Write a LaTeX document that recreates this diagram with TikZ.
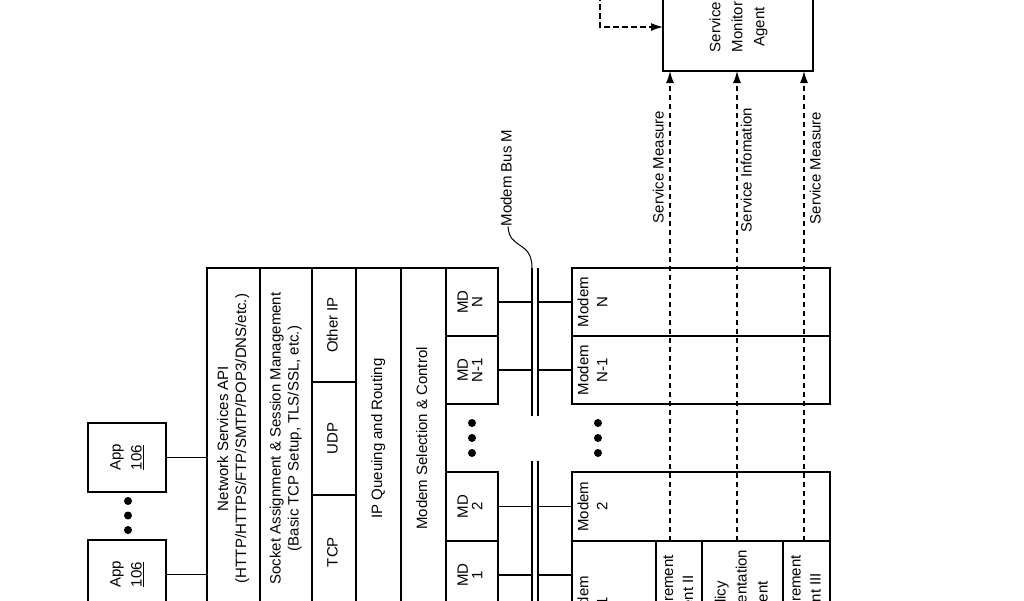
\documentclass[tikz,border=0pt]{standalone}
\usepackage{fontspec}
\setmainfont{Liberation Sans}
\usepackage{graphicx}
\usetikzlibrary{arrows.meta}
\newcommand{\rt}[2][18pt]{\rotatebox{90}{\fontsize{15pt}{#1}\selectfont\begin{tabular}{@{}c@{}}#2\end{tabular}}}
\begin{document}
\begin{tikzpicture}[x=1pt,y=-1pt,
  bx/.style={draw, line width=1.3pt, inner sep=0pt, outer sep=0pt, rectangle},
  sz/.style 2 args={minimum width=#1pt, minimum height=#2pt},
  lbl/.style={inner sep=0pt, outer sep=0pt},
  conn/.style={line width=1.2pt},
  bus/.style={line width=1.3pt},
  dsh/.style={line width=1.2pt, dash pattern=on 5.5pt off 3.5pt, -{Latex[length=12pt,width=8pt]}},
  dotn/.style={circle, fill, inner sep=0pt, minimum size=8pt}
]
\useasboundingbox (0,0) rectangle (1024,600);
\clip (0,0) rectangle (1024,600);

% Apps
\node[bx, sz={78}{69}] (app1) at (127,457.5) {\rt[21pt]{App\\\underline{106}}};
\node[bx, sz={78}{69}] (app2) at (127,574.5) {\rt[21pt]{App\\\underline{106}}};
\node[dotn] (ad1) at (128,501) {};
\node[dotn] (ad2) at (128,515.5) {};
\node[dotn] (ad3) at (128,530) {};

% Stack
\node[bx, sz={53}{341}] (nsa) at (233.5,438.5) {\rt{Network Services API\\(HTTP/HTTPS/FTP/SMTP/POP3/DNS/etc.)}};
\node[bx, sz={52}{341}] (sock) at (286,438.5) {\rt{Socket Assignment \& Session Management\\(Basic TCP Setup, TLS/SSL, etc.)}};
\node[bx, sz={44}{114}] (oip) at (334,325) {\rt{Other IP}};
\node[bx, sz={44}{113}] (udp) at (334,438.5) {\rt{UDP}};
\node[bx, sz={44}{114}] (tcp) at (334,552) {\rt{TCP}};
\node[bx, sz={45}{341}] (ipq) at (378.5,438.5) {\rt{IP Queuing and Routing}};
\node[bx, sz={45}{341}] (msc) at (423.5,438.5) {\rt{Modem Selection \& Control}};
\node[bx, sz={52}{68}] (mdN) at (472,302) {\rt[13.5pt]{MD\\N}};
\node[bx, sz={52}{68}] (mdN1) at (472,370) {\rt[13.5pt]{MD\\N-1}};
\node[bx, sz={52}{69}] (md2) at (472,506.5) {\rt[13.5pt]{MD\\2}};
\node[bx, sz={52}{68}] (md1) at (472,575) {\rt[13.5pt]{MD\\1}};
\node[dotn] (md1d) at (472,423) {};
\node[dotn] (md2d) at (472,438) {};
\node[dotn] (md3d) at (472,453) {};

\draw[conn] (app1.east) -- (app1.east -| nsa.west);
\draw[conn] (app2.east) -- (app2.east -| nsa.west);

% Bus
\coordinate (bL1) at (532,268); \coordinate (bL2) at (532,416);
\coordinate (bR1) at (538,268); \coordinate (bR2) at (538,416);
\coordinate (bL3) at (532,461); \coordinate (bL4) at (532,612);
\coordinate (bR3) at (538,461); \coordinate (bR4) at (538,612);
\draw[bus] (bL1) -- (bL2);
\draw[bus] (bR1) -- (bR2);
\draw[bus] (bL3) -- (bL4);
\draw[bus] (bR3) -- (bR4);
\node[lbl] (busl) at (508,178) {\rt{Modem Bus M}};
\draw[line width=1pt] (busl.south) .. controls (509,250) and (532,240) .. (bL1);

% Modems
\node[bx, sz={258}{68}] (modemN) at (701,302) {};
\node[bx, sz={258}{68}] (modemN1) at (701,370) {};
\node[bx, sz={258}{69}] (modem2) at (701,506.5) {};
\node[bx, sz={84}{120}] (modem1) at (614,601) {};
\node[bx, sz={46}{120}] (measII) at (679,601) {\rt[20pt]{Measurement\\Agent II}};
\node[bx, sz={81}{120}] (policy) at (742.5,601) {\rt[21pt]{Policy\\Implementation\\Agent}};
\node[bx, sz={47}{120}] (measIII) at (806.5,601) {\rt[20pt]{Measurement\\Agent III}};
\node[lbl] (tN) at (594,302) {\rt[19pt]{Modem\\N}};
\node[lbl] (tN1) at (594,370) {\rt[19pt]{Modem\\N-1}};
\node[lbl] (t2) at (594,506.5) {\rt[19pt]{Modem\\2}};
\node[lbl] (t1) at (594,601) {\rt[19pt]{Modem\\1}};
\node[dotn] (mo1d) at (598,423) {};
\node[dotn] (mo2d) at (598,438) {};
\node[dotn] (mo3d) at (598,453) {};

% MD to bus to modem
\draw[conn] (mdN.east) -- (mdN.east -| bL1);
\draw[conn] (mdN1.east) -- (mdN1.east -| bL1);
\draw[conn] (md2.east) -- (md2.east -| bL3);
\draw[conn] (md1.east) -- (md1.east -| bL3);
\draw[conn] (modemN.west -| bR1) -- (modemN.west);
\draw[conn] (modemN1.west -| bR1) -- (modemN1.west);
\draw[conn] (modem2.west -| bR3) -- (modem2.west);
\draw[conn] (md1.east -| bR3) -- (md1.east -| modem1.west);

% Service monitor agent
\node[bx, sz={150}{88}] (sma) at (738,27) {\rt[22pt]{Service\\Monitor\\Agent}};
\coordinate (tl) at (600,-5);
\draw[dsh] (tl) |- (sma.west);

\coordinate (x1) at (670,0);
\coordinate (x2) at (737,0);
\coordinate (x3) at (804,0);
\draw[dsh] (measII.north -| x1) -- (sma.south -| x1);
\draw[dsh] (policy.north -| x2) -- (sma.south -| x2);
\draw[dsh] (measIII.north -| x3) -- (sma.south -| x3);
\node[lbl] (lab1) at (660,167) {\rt{Service Measure}};
\node[lbl] (lab2) at (748,170) {\rt{Service Infomation}};
\node[lbl] (lab3) at (817,168) {\rt{Service Measure}};
\end{tikzpicture}
\end{document}
